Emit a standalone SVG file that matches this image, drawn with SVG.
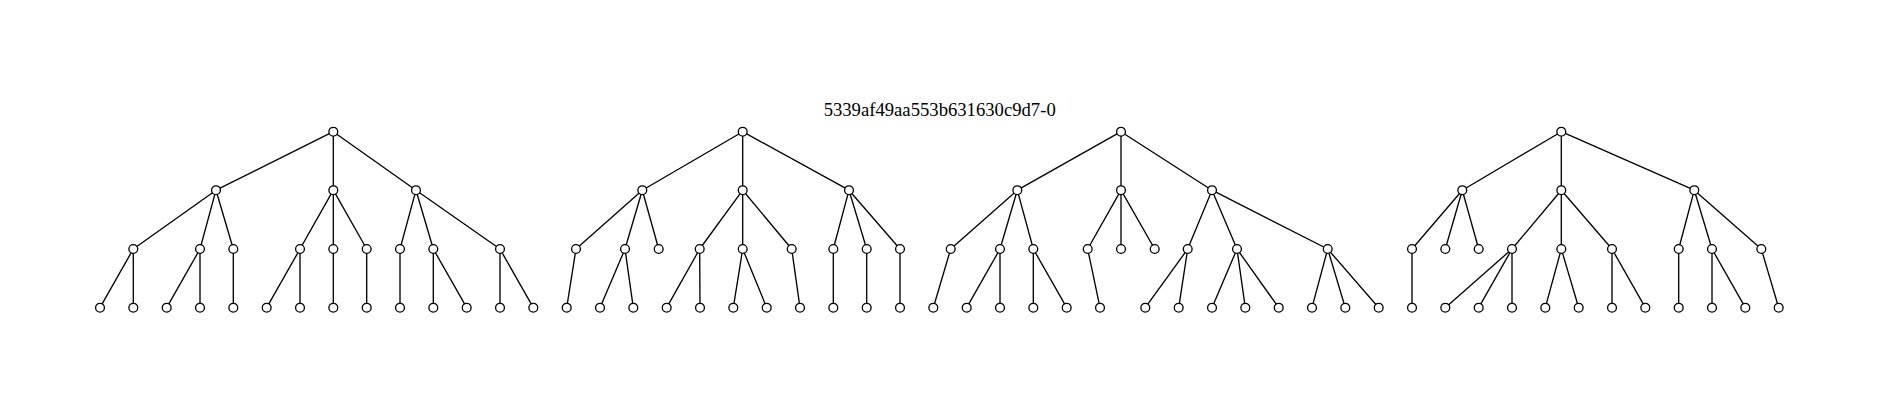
<svg xmlns="http://www.w3.org/2000/svg" width="1879" height="409" viewBox="0 0 1879 409">
<style>
.e{stroke:#000;stroke-width:1.33;fill:none}
.n{fill:#fff;stroke:#000;stroke-width:1.33}
.t{font-family:"Liberation Serif","Times New Roman",serif;font-size:18.67px;fill:#000}
</style>
<rect width="1879" height="409" fill="#fff"/>
<text class="t" x="939.7" y="116" text-anchor="middle">5339af49aa553b631630c9d7-0</text>
<g id="edges">
<line class="e" x1="333.3" y1="131.7" x2="216" y2="190.2"/>
<line class="e" x1="333.3" y1="131.7" x2="333.3" y2="190.2"/>
<line class="e" x1="333.3" y1="131.7" x2="416" y2="190.2"/>
<line class="e" x1="216" y1="190.2" x2="133.3" y2="249"/>
<line class="e" x1="216" y1="190.2" x2="200" y2="249"/>
<line class="e" x1="216" y1="190.2" x2="233.3" y2="249"/>
<line class="e" x1="333.3" y1="190.2" x2="300" y2="249"/>
<line class="e" x1="333.3" y1="190.2" x2="333.3" y2="249"/>
<line class="e" x1="333.3" y1="190.2" x2="366.7" y2="249"/>
<line class="e" x1="416" y1="190.2" x2="400" y2="249"/>
<line class="e" x1="416" y1="190.2" x2="433.3" y2="249"/>
<line class="e" x1="416" y1="190.2" x2="500" y2="249"/>
<line class="e" x1="133.3" y1="249" x2="100" y2="307.7"/>
<line class="e" x1="133.3" y1="249" x2="133.3" y2="307.7"/>
<line class="e" x1="200" y1="249" x2="166.7" y2="307.7"/>
<line class="e" x1="200" y1="249" x2="200" y2="307.7"/>
<line class="e" x1="233.3" y1="249" x2="233.3" y2="307.7"/>
<line class="e" x1="300" y1="249" x2="266.7" y2="307.7"/>
<line class="e" x1="300" y1="249" x2="300" y2="307.7"/>
<line class="e" x1="333.3" y1="249" x2="333.3" y2="307.7"/>
<line class="e" x1="366.7" y1="249" x2="366.7" y2="307.7"/>
<line class="e" x1="400" y1="249" x2="400" y2="307.7"/>
<line class="e" x1="433.3" y1="249" x2="433.3" y2="307.7"/>
<line class="e" x1="433.3" y1="249" x2="466.7" y2="307.7"/>
<line class="e" x1="500" y1="249" x2="500" y2="307.7"/>
<line class="e" x1="500" y1="249" x2="533.3" y2="307.7"/>
<line class="e" x1="742.7" y1="131.7" x2="642.3" y2="190.2"/>
<line class="e" x1="742.7" y1="131.7" x2="742.7" y2="190.2"/>
<line class="e" x1="742.7" y1="131.7" x2="849" y2="190.2"/>
<line class="e" x1="642.3" y1="190.2" x2="576" y2="249"/>
<line class="e" x1="642.3" y1="190.2" x2="625" y2="249"/>
<line class="e" x1="642.3" y1="190.2" x2="658.7" y2="249"/>
<line class="e" x1="742.7" y1="190.2" x2="699.7" y2="249"/>
<line class="e" x1="742.7" y1="190.2" x2="742.7" y2="249"/>
<line class="e" x1="742.7" y1="190.2" x2="791.7" y2="249"/>
<line class="e" x1="849" y1="190.2" x2="833.3" y2="249"/>
<line class="e" x1="849" y1="190.2" x2="866.7" y2="249"/>
<line class="e" x1="849" y1="190.2" x2="900" y2="249"/>
<line class="e" x1="576" y1="249" x2="566.7" y2="307.7"/>
<line class="e" x1="625" y1="249" x2="600" y2="307.7"/>
<line class="e" x1="625" y1="249" x2="633.3" y2="307.7"/>
<line class="e" x1="699.7" y1="249" x2="666.7" y2="307.7"/>
<line class="e" x1="699.7" y1="249" x2="700" y2="307.7"/>
<line class="e" x1="742.7" y1="249" x2="733.3" y2="307.7"/>
<line class="e" x1="742.7" y1="249" x2="766.7" y2="307.7"/>
<line class="e" x1="791.7" y1="249" x2="800" y2="307.7"/>
<line class="e" x1="833.3" y1="249" x2="833.3" y2="307.7"/>
<line class="e" x1="866.7" y1="249" x2="866.7" y2="307.7"/>
<line class="e" x1="900" y1="249" x2="900" y2="307.7"/>
<line class="e" x1="1121" y1="131.7" x2="1017.3" y2="190.2"/>
<line class="e" x1="1121" y1="131.7" x2="1121" y2="190.2"/>
<line class="e" x1="1121" y1="131.7" x2="1212" y2="190.2"/>
<line class="e" x1="1017.3" y1="190.2" x2="950.7" y2="249"/>
<line class="e" x1="1017.3" y1="190.2" x2="1000" y2="249"/>
<line class="e" x1="1017.3" y1="190.2" x2="1033.3" y2="249"/>
<line class="e" x1="1121" y1="190.2" x2="1087.7" y2="249"/>
<line class="e" x1="1121" y1="190.2" x2="1121" y2="249"/>
<line class="e" x1="1121" y1="190.2" x2="1154.7" y2="249"/>
<line class="e" x1="1212" y1="190.2" x2="1187.7" y2="249"/>
<line class="e" x1="1212" y1="190.2" x2="1237" y2="249"/>
<line class="e" x1="1212" y1="190.2" x2="1327.7" y2="249"/>
<line class="e" x1="950.7" y1="249" x2="933.3" y2="307.7"/>
<line class="e" x1="1000" y1="249" x2="966.7" y2="307.7"/>
<line class="e" x1="1000" y1="249" x2="1000" y2="307.7"/>
<line class="e" x1="1033.3" y1="249" x2="1033.3" y2="307.7"/>
<line class="e" x1="1033.3" y1="249" x2="1066.7" y2="307.7"/>
<line class="e" x1="1087.7" y1="249" x2="1100" y2="307.7"/>
<line class="e" x1="1187.7" y1="249" x2="1145.3" y2="307.7"/>
<line class="e" x1="1187.7" y1="249" x2="1178.7" y2="307.7"/>
<line class="e" x1="1237" y1="249" x2="1212" y2="307.7"/>
<line class="e" x1="1237" y1="249" x2="1245.3" y2="307.7"/>
<line class="e" x1="1237" y1="249" x2="1278.7" y2="307.7"/>
<line class="e" x1="1327.7" y1="249" x2="1312" y2="307.7"/>
<line class="e" x1="1327.7" y1="249" x2="1345.3" y2="307.7"/>
<line class="e" x1="1327.7" y1="249" x2="1378.7" y2="307.7"/>
<line class="e" x1="1561.3" y1="131.7" x2="1462.3" y2="190.2"/>
<line class="e" x1="1561.3" y1="131.7" x2="1561.3" y2="190.2"/>
<line class="e" x1="1561.3" y1="131.7" x2="1694.3" y2="190.2"/>
<line class="e" x1="1462.3" y1="190.2" x2="1412" y2="249"/>
<line class="e" x1="1462.3" y1="190.2" x2="1445.3" y2="249"/>
<line class="e" x1="1462.3" y1="190.2" x2="1478.7" y2="249"/>
<line class="e" x1="1561.3" y1="190.2" x2="1512" y2="249"/>
<line class="e" x1="1561.3" y1="190.2" x2="1561.3" y2="249"/>
<line class="e" x1="1561.3" y1="190.2" x2="1612" y2="249"/>
<line class="e" x1="1694.3" y1="190.2" x2="1678.7" y2="249"/>
<line class="e" x1="1694.3" y1="190.2" x2="1712" y2="249"/>
<line class="e" x1="1694.3" y1="190.2" x2="1761.3" y2="249"/>
<line class="e" x1="1412" y1="249" x2="1412" y2="307.7"/>
<line class="e" x1="1512" y1="249" x2="1445.3" y2="307.7"/>
<line class="e" x1="1512" y1="249" x2="1478.7" y2="307.7"/>
<line class="e" x1="1512" y1="249" x2="1512" y2="307.7"/>
<line class="e" x1="1561.3" y1="249" x2="1545.3" y2="307.7"/>
<line class="e" x1="1561.3" y1="249" x2="1578.7" y2="307.7"/>
<line class="e" x1="1612" y1="249" x2="1612" y2="307.7"/>
<line class="e" x1="1612" y1="249" x2="1645.3" y2="307.7"/>
<line class="e" x1="1678.7" y1="249" x2="1678.7" y2="307.7"/>
<line class="e" x1="1712" y1="249" x2="1712" y2="307.7"/>
<line class="e" x1="1712" y1="249" x2="1745.3" y2="307.7"/>
<line class="e" x1="1761.3" y1="249" x2="1778.7" y2="307.7"/>
</g>
<g id="t1_r"><circle class="n" cx="333.3" cy="131.7" r="4.4"/></g>
<g id="t1_a"><circle class="n" cx="216" cy="190.2" r="4.4"/></g>
<g id="t1_b"><circle class="n" cx="333.3" cy="190.2" r="4.4"/></g>
<g id="t1_c"><circle class="n" cx="416" cy="190.2" r="4.4"/></g>
<g id="t1_a1"><circle class="n" cx="133.3" cy="249" r="4.4"/></g>
<g id="t1_a2"><circle class="n" cx="200" cy="249" r="4.4"/></g>
<g id="t1_a3"><circle class="n" cx="233.3" cy="249" r="4.4"/></g>
<g id="t1_b1"><circle class="n" cx="300" cy="249" r="4.4"/></g>
<g id="t1_b2"><circle class="n" cx="333.3" cy="249" r="4.4"/></g>
<g id="t1_b3"><circle class="n" cx="366.7" cy="249" r="4.4"/></g>
<g id="t1_c1"><circle class="n" cx="400" cy="249" r="4.4"/></g>
<g id="t1_c2"><circle class="n" cx="433.3" cy="249" r="4.4"/></g>
<g id="t1_c3"><circle class="n" cx="500" cy="249" r="4.4"/></g>
<g id="t1_l1"><circle class="n" cx="100" cy="307.7" r="4.4"/></g>
<g id="t1_l2"><circle class="n" cx="133.3" cy="307.7" r="4.4"/></g>
<g id="t1_l3"><circle class="n" cx="166.7" cy="307.7" r="4.4"/></g>
<g id="t1_l4"><circle class="n" cx="200" cy="307.7" r="4.4"/></g>
<g id="t1_l5"><circle class="n" cx="233.3" cy="307.7" r="4.4"/></g>
<g id="t1_l6"><circle class="n" cx="266.7" cy="307.7" r="4.4"/></g>
<g id="t1_l7"><circle class="n" cx="300" cy="307.7" r="4.4"/></g>
<g id="t1_l8"><circle class="n" cx="333.3" cy="307.7" r="4.4"/></g>
<g id="t1_l9"><circle class="n" cx="366.7" cy="307.7" r="4.4"/></g>
<g id="t1_l10"><circle class="n" cx="400" cy="307.7" r="4.4"/></g>
<g id="t1_l11"><circle class="n" cx="433.3" cy="307.7" r="4.4"/></g>
<g id="t1_l12"><circle class="n" cx="466.7" cy="307.7" r="4.4"/></g>
<g id="t1_l13"><circle class="n" cx="500" cy="307.7" r="4.4"/></g>
<g id="t1_l14"><circle class="n" cx="533.3" cy="307.7" r="4.4"/></g>
<g id="t2_r"><circle class="n" cx="742.7" cy="131.7" r="4.4"/></g>
<g id="t2_d"><circle class="n" cx="642.3" cy="190.2" r="4.4"/></g>
<g id="t2_e"><circle class="n" cx="742.7" cy="190.2" r="4.4"/></g>
<g id="t2_f"><circle class="n" cx="849" cy="190.2" r="4.4"/></g>
<g id="t2_d1"><circle class="n" cx="576" cy="249" r="4.4"/></g>
<g id="t2_d2"><circle class="n" cx="625" cy="249" r="4.4"/></g>
<g id="t2_d3"><circle class="n" cx="658.7" cy="249" r="4.4"/></g>
<g id="t2_e1"><circle class="n" cx="699.7" cy="249" r="4.4"/></g>
<g id="t2_e2"><circle class="n" cx="742.7" cy="249" r="4.4"/></g>
<g id="t2_e3"><circle class="n" cx="791.7" cy="249" r="4.4"/></g>
<g id="t2_f1"><circle class="n" cx="833.3" cy="249" r="4.4"/></g>
<g id="t2_f2"><circle class="n" cx="866.7" cy="249" r="4.4"/></g>
<g id="t2_f3"><circle class="n" cx="900" cy="249" r="4.4"/></g>
<g id="t2_l1"><circle class="n" cx="566.7" cy="307.7" r="4.4"/></g>
<g id="t2_l2"><circle class="n" cx="600" cy="307.7" r="4.4"/></g>
<g id="t2_l3"><circle class="n" cx="633.3" cy="307.7" r="4.4"/></g>
<g id="t2_l4"><circle class="n" cx="666.7" cy="307.7" r="4.4"/></g>
<g id="t2_l5"><circle class="n" cx="700" cy="307.7" r="4.4"/></g>
<g id="t2_l6"><circle class="n" cx="733.3" cy="307.7" r="4.4"/></g>
<g id="t2_l7"><circle class="n" cx="766.7" cy="307.7" r="4.4"/></g>
<g id="t2_l8"><circle class="n" cx="800" cy="307.7" r="4.4"/></g>
<g id="t2_l9"><circle class="n" cx="833.3" cy="307.7" r="4.4"/></g>
<g id="t2_l10"><circle class="n" cx="866.7" cy="307.7" r="4.4"/></g>
<g id="t2_l11"><circle class="n" cx="900" cy="307.7" r="4.4"/></g>
<g id="t3_r"><circle class="n" cx="1121" cy="131.7" r="4.4"/></g>
<g id="t3_g"><circle class="n" cx="1017.3" cy="190.2" r="4.4"/></g>
<g id="t3_h"><circle class="n" cx="1121" cy="190.2" r="4.4"/></g>
<g id="t3_i"><circle class="n" cx="1212" cy="190.2" r="4.4"/></g>
<g id="t3_g1"><circle class="n" cx="950.7" cy="249" r="4.4"/></g>
<g id="t3_g2"><circle class="n" cx="1000" cy="249" r="4.4"/></g>
<g id="t3_g3"><circle class="n" cx="1033.3" cy="249" r="4.4"/></g>
<g id="t3_h1"><circle class="n" cx="1087.7" cy="249" r="4.4"/></g>
<g id="t3_h2"><circle class="n" cx="1121" cy="249" r="4.4"/></g>
<g id="t3_h3"><circle class="n" cx="1154.7" cy="249" r="4.4"/></g>
<g id="t3_i1"><circle class="n" cx="1187.7" cy="249" r="4.4"/></g>
<g id="t3_i2"><circle class="n" cx="1237" cy="249" r="4.4"/></g>
<g id="t3_i3"><circle class="n" cx="1327.7" cy="249" r="4.4"/></g>
<g id="t3_l1"><circle class="n" cx="933.3" cy="307.7" r="4.4"/></g>
<g id="t3_l2"><circle class="n" cx="966.7" cy="307.7" r="4.4"/></g>
<g id="t3_l3"><circle class="n" cx="1000" cy="307.7" r="4.4"/></g>
<g id="t3_l4"><circle class="n" cx="1033.3" cy="307.7" r="4.4"/></g>
<g id="t3_l5"><circle class="n" cx="1066.7" cy="307.7" r="4.4"/></g>
<g id="t3_l6"><circle class="n" cx="1100" cy="307.7" r="4.4"/></g>
<g id="t3_l7"><circle class="n" cx="1145.3" cy="307.7" r="4.4"/></g>
<g id="t3_l8"><circle class="n" cx="1178.7" cy="307.7" r="4.4"/></g>
<g id="t3_l9"><circle class="n" cx="1212" cy="307.7" r="4.4"/></g>
<g id="t3_l10"><circle class="n" cx="1245.3" cy="307.7" r="4.4"/></g>
<g id="t3_l11"><circle class="n" cx="1278.7" cy="307.7" r="4.4"/></g>
<g id="t3_l12"><circle class="n" cx="1312" cy="307.7" r="4.4"/></g>
<g id="t3_l13"><circle class="n" cx="1345.3" cy="307.7" r="4.4"/></g>
<g id="t3_l14"><circle class="n" cx="1378.7" cy="307.7" r="4.4"/></g>
<g id="t4_r"><circle class="n" cx="1561.3" cy="131.7" r="4.4"/></g>
<g id="t4_j"><circle class="n" cx="1462.3" cy="190.2" r="4.4"/></g>
<g id="t4_k"><circle class="n" cx="1561.3" cy="190.2" r="4.4"/></g>
<g id="t4_m"><circle class="n" cx="1694.3" cy="190.2" r="4.4"/></g>
<g id="t4_j1"><circle class="n" cx="1412" cy="249" r="4.4"/></g>
<g id="t4_j2"><circle class="n" cx="1445.3" cy="249" r="4.4"/></g>
<g id="t4_j3"><circle class="n" cx="1478.7" cy="249" r="4.4"/></g>
<g id="t4_k1"><circle class="n" cx="1512" cy="249" r="4.4"/></g>
<g id="t4_k2"><circle class="n" cx="1561.3" cy="249" r="4.4"/></g>
<g id="t4_k3"><circle class="n" cx="1612" cy="249" r="4.4"/></g>
<g id="t4_m1"><circle class="n" cx="1678.7" cy="249" r="4.4"/></g>
<g id="t4_m2"><circle class="n" cx="1712" cy="249" r="4.4"/></g>
<g id="t4_m3"><circle class="n" cx="1761.3" cy="249" r="4.4"/></g>
<g id="t4_l1"><circle class="n" cx="1412" cy="307.7" r="4.4"/></g>
<g id="t4_l2"><circle class="n" cx="1445.3" cy="307.7" r="4.4"/></g>
<g id="t4_l3"><circle class="n" cx="1478.7" cy="307.7" r="4.4"/></g>
<g id="t4_l4"><circle class="n" cx="1512" cy="307.7" r="4.4"/></g>
<g id="t4_l5"><circle class="n" cx="1545.3" cy="307.7" r="4.4"/></g>
<g id="t4_l6"><circle class="n" cx="1578.7" cy="307.7" r="4.4"/></g>
<g id="t4_l7"><circle class="n" cx="1612" cy="307.7" r="4.4"/></g>
<g id="t4_l8"><circle class="n" cx="1645.3" cy="307.7" r="4.4"/></g>
<g id="t4_l9"><circle class="n" cx="1678.7" cy="307.7" r="4.4"/></g>
<g id="t4_l10"><circle class="n" cx="1712" cy="307.7" r="4.4"/></g>
<g id="t4_l11"><circle class="n" cx="1745.3" cy="307.7" r="4.4"/></g>
<g id="t4_l12"><circle class="n" cx="1778.7" cy="307.7" r="4.4"/></g>
</svg>
